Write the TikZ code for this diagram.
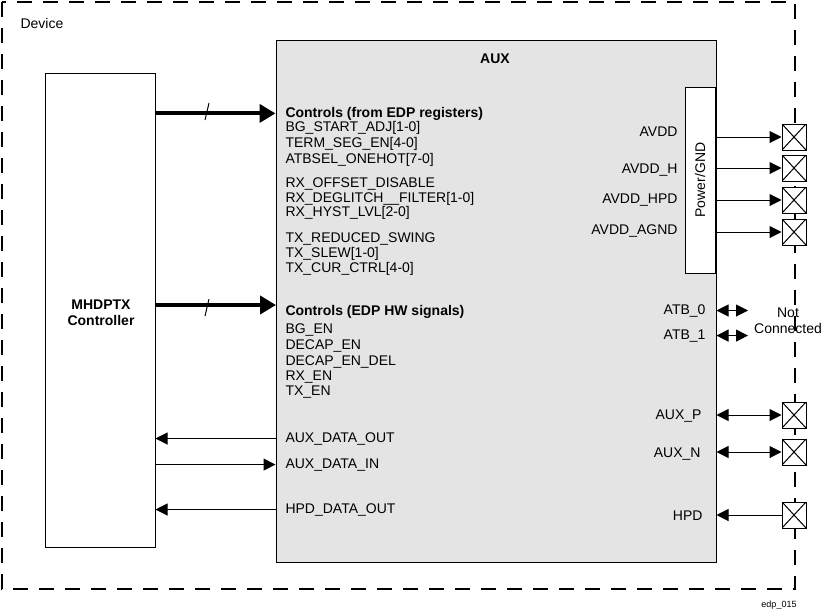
\documentclass[tikz,border=0pt]{standalone}
\usepackage{fontspec}
\setmainfont{Liberation Sans}
\usetikzlibrary{arrows.meta}
\definecolor{auxgray}{RGB}{228,228,228}

\begin{document}
\begin{tikzpicture}[x=1pt, y=-1pt, line width=1pt,
    font=\fontsize{14}{16}\selectfont,
    bold/.style={font=\fontsize{14}{16}\selectfont\bfseries},
    sig/.style={-{Triangle[length=12pt,width=12pt]}},
    both/.style={{Triangle[length=12pt,width=12pt]}-{Triangle[length=12pt,width=12pt]}},
    bus/.style={line width=4pt, -{Triangle[length=16pt,width=18pt]}},
    lbl/.style={anchor=base west, inner sep=0pt},
    rlbl/.style={anchor=base east, inner sep=0pt},
    pad/.style={draw, fill=white, minimum width=24pt, minimum height=26pt, inner sep=0pt,
        path picture={\draw (path picture bounding box.north west) -- (path picture bounding box.south east)
            (path picture bounding box.south west) -- (path picture bounding box.north east);}}]
    \useasboundingbox (0,0) rectangle (822,611);
    % device border
    \draw[line width=1.5pt, dash pattern=on 15pt off 11pt] (2,2) rectangle (795,589);
    \node[lbl] (devlbl) at (20,28) {Device};
    \node[font=\fontsize{9}{10}\selectfont] (figid) at (779,605) {edp\_015};
    % blocks
    \node[draw, minimum width=110pt, minimum height=474pt, inner sep=0pt] (ctrl) at (100,310) {};
    \node[bold, align=center] (ctrlname) at (101,313) {MHDPTX\\Controller};
    \node[draw, fill=auxgray, minimum width=440pt, minimum height=522pt, inner sep=0pt] (aux) at (496,301) {};
    \node[bold] (auxname) at (495,59) {AUX};
    \node[draw, fill=white, minimum width=30pt, minimum height=186pt, inner sep=0pt] (pwr) at (700,180) {};
    \node[rotate=90] (pwrlbl) at (pwr) {Power/GND};
    % register controls
    \node[lbl, bold] (regs) at (285,117) {Controls (from EDP registers)};
    \foreach \n/\yy/\txt in {bgadj/126/BG\_START\_ADJ[1-0], termseg/142/TERM\_SEG\_EN[4-0],
            atbsel/158/ATBSEL\_ONEHOT[7-0], rxoff/182/RX\_OFFSET\_DISABLE,
            rxdeg/197/RX\_DEGLITCH\_\_FILTER[1-0], rxhyst/211/RX\_HYST\_LVL[2-0],
            txred/237/TX\_REDUCED\_SWING, txslew/252/TX\_SLEW[1-0], txcur/267/TX\_CUR\_CTRL[4-0]}
        \node[lbl] (\n) at (285,\yy+5) {\txt};
    % hw controls
    \node[lbl, bold] (hw) at (285,315) {Controls (EDP HW signals)};
    \foreach \n/\yy/\txt in {bgen/328/BG\_EN, decap/344/DECAP\_EN, decapdel/360/DECAP\_EN\_DEL,
            rxen/375/RX\_EN, txen/390/TX\_EN}
        \node[lbl] (\n) at (285,\yy+5) {\txt};
    \node[lbl] (dout) at (285,442) {AUX\_DATA\_OUT};
    \node[lbl] (din) at (285,468) {AUX\_DATA\_IN};
    \node[lbl] (hpdout) at (285,513) {HPD\_DATA\_OUT};
    % buses and signals to the controller
    \coordinate (hwin) at (276,305);
    \draw[bus] (ctrl.east |- regs) -- (aux.west |- regs);
    \draw[bus] (ctrl.east |- hwin) -- (hwin);
    \draw (205,120) -- (209,103);
    \draw (205,316) -- (209,299);
    \draw[sig] (aux.west |- dout) -- (ctrl.east |- dout);
    \draw[sig] (ctrl.east |- din) -- (aux.west |- din);
    \draw[sig] (aux.west |- hpdout) -- (ctrl.east |- hpdout);
    % pins
    \foreach \n/\yy/\txt in {avdd/131/AVDD, avddh/168/AVDD\_H, avddhpd/198/AVDD\_HPD, avddagnd/229/AVDD\_AGND}
        \node[rlbl] (\n) at (678,\yy+5) {\txt};
    \node[rlbl] (atb0) at (706,314) {ATB\_0};
    \node[rlbl] (atb1) at (706,339) {ATB\_1};
    \node[rlbl] (auxp) at (702,419) {AUX\_P};
    \node[rlbl] (auxn) at (701,457) {AUX\_N};
    \node[rlbl] (hpd) at (703,520) {HPD};
    \node[align=center] (nc) at (788,321) {Not\\Connected};
    \coordinate (ncend) at (748,320);
    \foreach \n/\yy in {pa/137, pb/168, pc/200, pd/232, pp/415, pn/452, ph/515}
        \node[pad] (\n) at (794,\yy) {};
    \foreach \n in {pa,pb,pc,pd}
        \draw[sig] (pwr.east |- \n) -- (\n.west);
    \draw[both] (aux.east |- atb0) -- (ncend |- atb0);
    \draw[both] (aux.east |- atb1) -- (ncend |- atb1);
    \draw[both] (aux.east |- pp) -- (pp.west);
    \draw[both] (aux.east |- pn) -- (pn.west);
    \draw[sig] (ph.west) -- (aux.east |- ph);
\end{tikzpicture}
\end{document}
